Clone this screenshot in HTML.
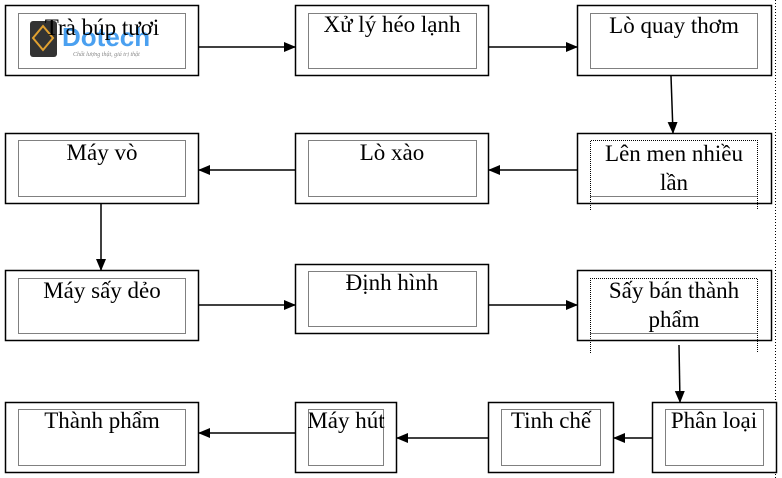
<!DOCTYPE html>
<html><head><meta charset="utf-8"><style>
html,body{margin:0;padding:0;background:#fff;}
svg{display:block;}
text{font-family:"Liberation Serif",serif;font-size:23px;fill:#000;}
</style></head><body>
<svg width="782" height="478" viewBox="0 0 782 478" xmlns="http://www.w3.org/2000/svg">
<defs><marker id="a" markerWidth="12" markerHeight="12" refX="11" refY="6" orient="auto" markerUnits="userSpaceOnUse"><path d="M0,1 L12,6 L0,11 Z" fill="#000"/></marker></defs>
<line x1="775.5" y1="0" x2="775.5" y2="478" stroke="#000" stroke-dasharray="1,2" shape-rendering="crispEdges"/>
<g fill="#fff" stroke="#000" stroke-width="1.5">
<rect x="5.5" y="5.5" width="193" height="70"/>
<rect x="295.5" y="5.5" width="193" height="70"/>
<rect x="577.5" y="5.5" width="194" height="70"/>
<rect x="5.5" y="133.5" width="193" height="70"/>
<rect x="295.5" y="133.5" width="193" height="70"/>
<rect x="577.5" y="133.5" width="194" height="70"/>
<rect x="5.5" y="270.5" width="193" height="70"/>
<rect x="295.5" y="264.5" width="193" height="69"/>
<rect x="577.5" y="270.5" width="194" height="70"/>
<rect x="5.5" y="402.5" width="193" height="70"/>
<rect x="295.5" y="402.5" width="101" height="70"/>
<rect x="488.5" y="402.5" width="125" height="70"/>
<rect x="652.5" y="402.5" width="124" height="70"/>
</g>
<g fill="none" stroke="#000" stroke-width="1" stroke-dasharray="1,1" shape-rendering="crispEdges">
<rect x="18.5" y="13.5" width="167" height="55"/>
<rect x="308.5" y="13.5" width="168" height="55"/>
<rect x="590.5" y="13.5" width="167" height="55"/>
<rect x="18.5" y="140.5" width="167" height="56"/>
<rect x="308.5" y="140.5" width="168" height="56"/>
<path d="M590.5,210 V140.5 H757.5 V210 M590.5,196.5 H757.5"/>
<rect x="18.5" y="278.5" width="167" height="55"/>
<rect x="308.5" y="271.5" width="168" height="55"/>
<path d="M590.5,353 V278.5 H757.5 V353 M590.5,333.5 H757.5"/>
<rect x="18.5" y="409.5" width="167" height="56"/>
<rect x="308.5" y="409.5" width="75" height="56"/>
<rect x="501.5" y="409.5" width="99" height="56"/>
<rect x="665.5" y="409.5" width="98" height="56"/>
</g>
<g stroke="#000" stroke-width="1.5" marker-end="url(#a)">
<line x1="199" y1="47" x2="295" y2="47"/>
<line x1="489" y1="47" x2="577" y2="47"/>
<line x1="671" y1="76" x2="673" y2="133"/>
<line x1="577" y1="170" x2="489" y2="170"/>
<line x1="295" y1="170" x2="199" y2="170"/>
<line x1="101" y1="204" x2="101" y2="270"/>
<line x1="199" y1="305" x2="295" y2="305"/>
<line x1="489" y1="305" x2="577" y2="305"/>
<line x1="679" y1="345" x2="680" y2="402"/>
<line x1="652" y1="438" x2="614" y2="438"/>
<line x1="488" y1="438" x2="397" y2="438"/>
<line x1="295" y1="433" x2="199" y2="433"/>
</g>
<g>
<rect x="30" y="21" width="27" height="36" rx="3" fill="#333"/>
<path d="M43,26 L53,38 L43,50 L33,38 Z" fill="none" stroke="#e0a030" stroke-width="2"/>
<text x="62" y="46" style="font-family:'Liberation Sans',sans-serif;font-size:26px;font-weight:bold;fill:#4aa0f0">Dotech</text>
<text x="73" y="56" style="font-size:6px;font-style:italic;fill:#888">Chất lượng thật, giá trị thật</text>
</g>
<g text-anchor="middle">
<text x="102" y="35">Trà búp tươi</text>
<text x="392" y="32">Xử lý héo lạnh</text>
<text x="674" y="33">Lò quay thơm</text>
<text x="102" y="160">Máy vò</text>
<text x="392" y="160">Lò xào</text>
<text x="674" y="161">Lên men nhiều</text>
<text x="674" y="190">lần</text>
<text x="102" y="298">Máy sấy dẻo</text>
<text x="392" y="290">Định hình</text>
<text x="674" y="298">Sấy bán thành</text>
<text x="674" y="327">phẩm</text>
<text x="102" y="428">Thành phẩm</text>
<text x="346" y="428">Máy hút</text>
<text x="551" y="428">Tinh chế</text>
<text x="714" y="428">Phân loại</text>
</g>
</svg>
</body></html>
